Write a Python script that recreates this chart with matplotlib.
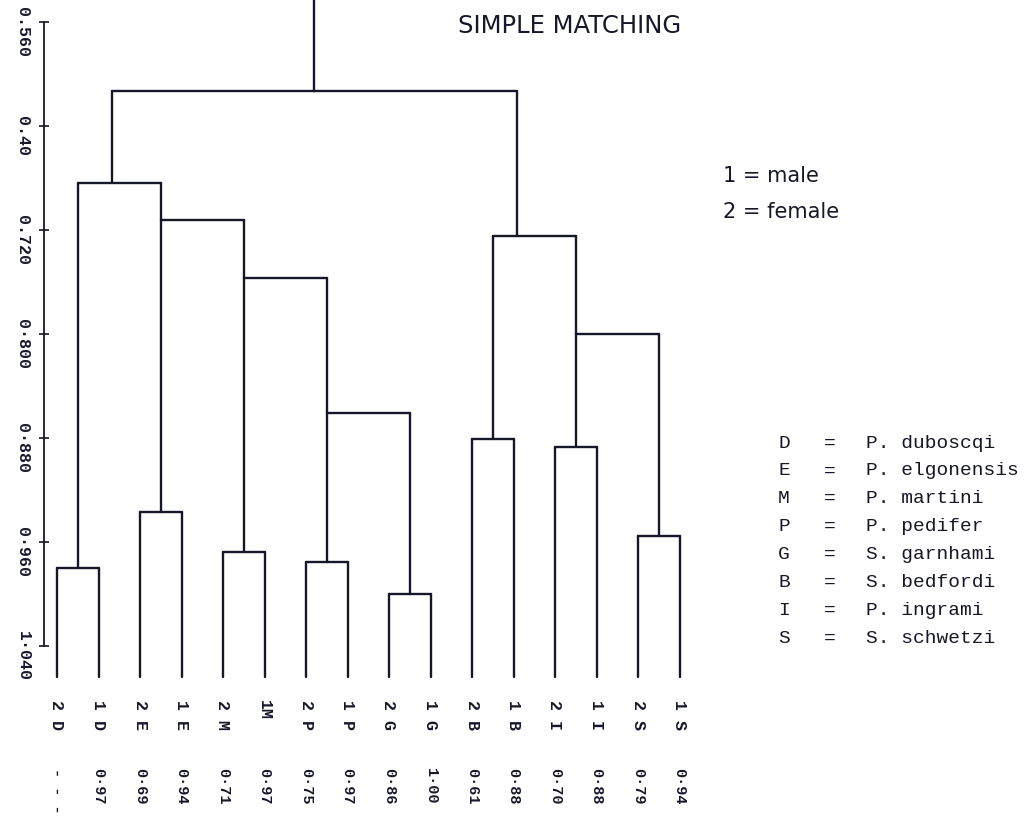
# -*- coding: utf-8 -*-
"""
Simple matching dendrogram (Phlebotomus / Sergentomyia, male & female)
"""

import matplotlib
matplotlib.use("Agg")
import matplotlib.pyplot as plt
import matplotlib.transforms as mtransforms

# ======================================================
# 0. DATA
# ======================================================
leaf_labels = ["2 D", "1 D", "2 E", "1 E", "2 M", "1M", "2 P", "1 P",
               "2 G", "1 G", "2 B", "1 B", "2 I", "1 I", "2 S", "1 S"]
leaf_values = ["- - -", "0·97", "0·69", "0·94", "0·71", "0·97", "0·75", "0·97",
               "0·86", "1·00", "0·61", "0·88", "0·70", "0·88", "0·79", "0·94"]

# merges: (left node, right node, level) -- leaves are 0..15, new nodes from 16
merge_left = [0, 2, 4, 6, 8, 10, 12, 14, 19, 18, 17, 16, 22, 21, 27]
merge_right = [1, 3, 5, 7, 9, 11, 13, 15, 20, 24, 25, 26, 23, 28, 29]
merge_level = [0.980, 0.937, 0.968, 0.975, 1.000, 0.881, 0.887, 0.955,
               0.861, 0.757, 0.712, 0.684, 0.800, 0.725, 0.613]

ytick_values = [0.56, 0.64, 0.72, 0.80, 0.88, 0.96, 1.04]
ytick_labels = ["0.560", "0.40", "0.720", "0·800", "0·880", "0·960", "1·040"]

key_letters = ["D", "E", "M", "P", "G", "B", "I", "S"]
key_names = ["P. duboscqi", "P. elgonensis", "P. martini", "P. pedifer",
             "S. garnhami", "S. bedfordi", "P. ingrami", "S. schwetzi"]

# ======================================================
# 1. LAYOUT (where each stem leaves its horizontal bar)
# ======================================================
stem_frac = [0.5] * 8 + [0.0, 0.0, 0.0, 0.41, 0.0, 0.29, 0.5]
LEAF_BOTTOM = 1.064
Y_TOP, Y_BOT = 0.5431, 1.0815
INK = "#17172a"
LW = 1.7
MONO = "Liberation Mono"

W, H = 1029, 819
fig = plt.figure(figsize=(W / 100, H / 100), dpi=100)
fig.patch.set_facecolor("white")
ax = fig.add_axes([44 / W, (H - 700) / H, 676 / W, 700 / H])
ax.set_xlim((44 - 57) / 41.5, (720 - 57) / 41.5)
ax.set_ylim(Y_BOT, Y_TOP)

# ======================================================
# 2. DENDROGRAM
# ======================================================
n = len(leaf_labels)
pos = {i: float(i) for i in range(n)}
top = {i: LEAF_BOTTOM for i in range(n)}

for k, (a, b, h) in enumerate(zip(merge_left, merge_right, merge_level)):
    node = n + k
    xa, xb = pos[a], pos[b]
    ax.plot([xa, xa], [top[a], h], color=INK, lw=LW, solid_capstyle="round")
    ax.plot([xb, xb], [top[b], h], color=INK, lw=LW, solid_capstyle="round")
    ax.plot([xa, xb], [h, h], color=INK, lw=LW, solid_capstyle="round")
    pos[node] = xa + stem_frac[k] * (xb - xa)
    top[node] = h

root = n + len(merge_level) - 1
ax.plot([pos[root], pos[root]], [top[root], Y_TOP], color=INK, lw=LW)

for i in range(n):
    ax.text(i, 1.0815, leaf_labels[i], rotation=-90, ha="center", va="top",
            family=MONO, fontsize=12, fontweight="bold", color=INK)
    ax.text(i, 1.134, leaf_values[i], rotation=-90, ha="center", va="top",
            family=MONO, fontsize=11, fontweight="bold", color=INK)

# ======================================================
# 3. AXIS
# ======================================================
for s in ["top", "right", "bottom"]:
    ax.spines[s].set_visible(False)
ax.spines["left"].set_bounds(ytick_values[0], ytick_values[-1])
ax.spines["left"].set_color(INK)
ax.spines["left"].set_linewidth(1.3)
ax.set_xticks([])
ax.set_yticks(ytick_values)
ax.set_yticklabels(ytick_labels, rotation=-90, va="center",
                   family=MONO, fontsize=12, fontweight="bold", color=INK)
ax.tick_params(axis="y", direction="inout", length=7.5, width=1.2,
               color=INK, pad=6)

# labels on the original sit a little below their ticks
shift = mtransforms.ScaledTranslation(0, -10 / 100, fig.dpi_scale_trans)
for lab in ax.get_yticklabels():
    lab.set_transform(lab.get_transform() + shift)

# ======================================================
# 4. TEXT / KEY
# ======================================================
fig.text(570 / W, 1 - 26 / H, "SIMPLE MATCHING", ha="center", va="center",
         family="DejaVu Sans", fontsize=17.5, color=INK)
fig.text(723 / W, 1 - 176 / H, "1 = male", ha="left", va="center",
         family="DejaVu Sans", fontsize=15, color=INK)
fig.text(723 / W, 1 - 212 / H, "2 = female", ha="left", va="center",
         family="DejaVu Sans", fontsize=15, color=INK)

for j, (let, name) in enumerate(zip(key_letters, key_names)):
    yy = 1 - (443 + j * 27.9) / H
    fig.text(778 / W, yy, let, ha="left", va="center",
             family=MONO, fontsize=14, color=INK)
    fig.text(830 / W, yy, "=", ha="center", va="center",
             family=MONO, fontsize=14, color=INK)
    fig.text(866 / W, yy, name, ha="left", va="center",
             family=MONO, fontsize=14, color=INK)

fig.savefig("out.png", dpi=100, facecolor="white")
print("saved out.png")
